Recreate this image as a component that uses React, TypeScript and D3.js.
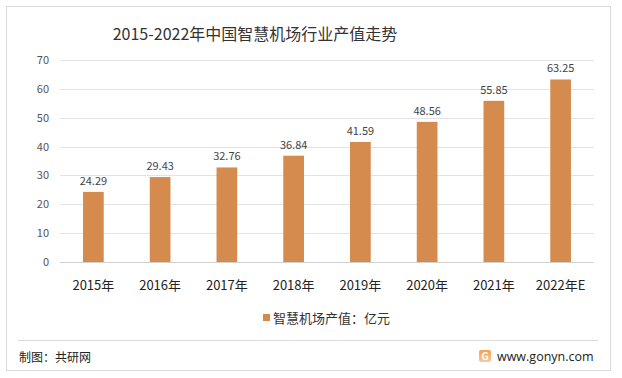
import React from "react";
import * as d3 from "d3";

const categories = ["2015年", "2016年", "2017年", "2018年", "2019年", "2020年", "2021年", "2022年E"];
const values = [24.29, 29.43, 32.76, 36.84, 41.59, 48.56, 55.85, 63.25];
const yTicks = [0, 10, 20, 30, 40, 50, 60, 70];
const title = "2015-2022年中国智慧机场行业产值走势";
const legendLabel = "智慧机场产值：亿元";
const sourceLabel = "制图：共研网";
const siteLabel = "www.gonyn.com";

const W = 622;
const H = 378;
const FONT = "'Microsoft YaHei', 'Noto Sans CJK SC', 'Noto Sans', sans-serif";

export default function App() {
  const x = d3.scaleBand<string>().domain(categories).range([60, 594]).paddingInner(0.69).paddingOuter(0.345);
  const y = d3.scaleLinear().domain([0, 70]).range([262, 60]);
  const barColor = "#D58B4E";

  return (
    <svg width={W} height={H} style={{ position: "absolute", left: 0, top: 0, background: "#fff" }} fontFamily={FONT}>
      <rect x={6.5} y={6.5} width={604} height={364} fill="#fff" stroke="#d9d9d9" strokeWidth={1} />
      <text x={255} y={40} textAnchor="middle" fontSize={16} fill="#333">{title}</text>
      {yTicks.map((t) => (
        <g key={t}>
          <line x1={60} x2={594} y1={Math.round(y(t)) + 0.5} y2={Math.round(y(t)) + 0.5} stroke={t === 0 ? "#d0d0d0" : "#e3e3e3"} strokeWidth={1} />
          <text x={49} y={y(t) + 4} textAnchor="end" fontSize={11} fill="#555">{t}</text>
        </g>
      ))}
      {categories.map((c, i) => {
        const bx = x(c)!;
        const bw = x.bandwidth();
        return (
          <g key={c}>
            <rect x={bx} y={y(values[i])} width={bw} height={y(0) - y(values[i])} fill={barColor} />
            <text x={bx + bw / 2} y={y(values[i]) - 7} textAnchor="middle" fontSize={11} fill="#444">{values[i].toFixed(2)}</text>
            <text x={bx + bw / 2} y={290} textAnchor="middle" fontSize={13} fill="#222">{c}</text>
          </g>
        );
      })}
      <rect x={263} y={314} width={7} height={7} fill={barColor} />
      <text x={273} y={322.5} fontSize={13} fill="#333">{legendLabel}</text>
      <line x1={18} x2={598} y1={340.5} y2={340.5} stroke="#d9d9d9" strokeWidth={1} />
      <text x={19} y={362} fontSize={12} fill="#222">{sourceLabel}</text>
      <defs>
        <linearGradient id="lg" x1="0" y1="0" x2="0" y2="1">
          <stop offset="0" stopColor="#f5a04a" />
          <stop offset="1" stopColor="#f7c9a0" />
        </linearGradient>
      </defs>
      <rect x={479} y={350} width={12} height={12} rx={2} fill="url(#lg)" />
      <text x={485} y={360} textAnchor="middle" fontSize={10} fontWeight="bold" fill="#fff">G</text>
      <text x={497} y={361} fontSize={12.5} fill="#222" fontFamily="'Open Sans', sans-serif">{siteLabel}</text>
    </svg>
  );
}
